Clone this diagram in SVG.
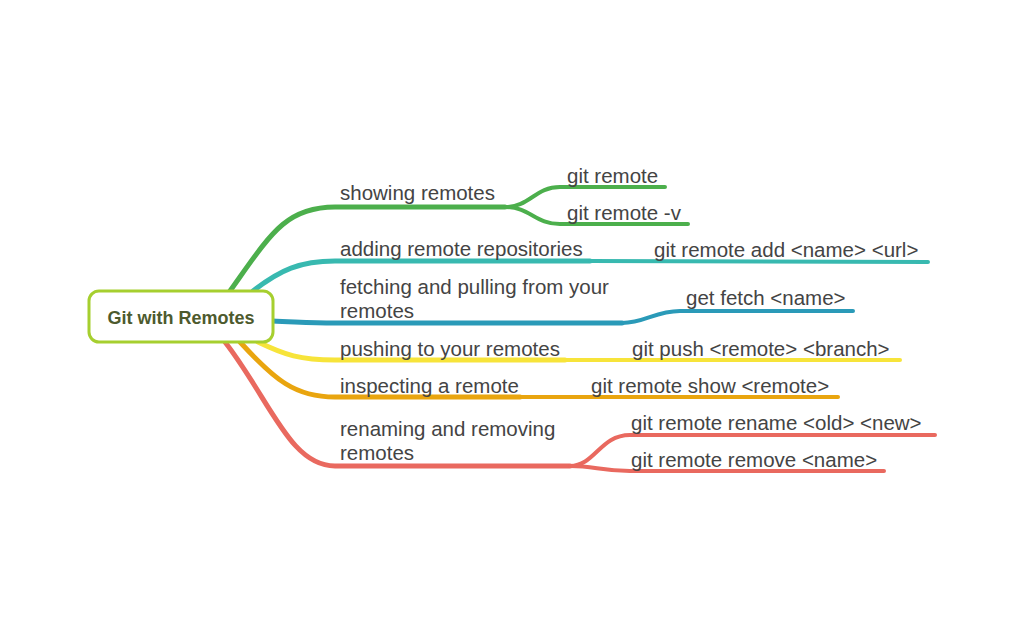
<svg xmlns="http://www.w3.org/2000/svg" width="1024" height="633" viewBox="0 0 1024 633">
<style>
.t{font-family:"Liberation Sans",Arial,sans-serif;font-size:20.5px;fill:#444;}
.m{fill:none;stroke-width:5;stroke-linecap:round;}
.s{fill:none;stroke-width:4;stroke-linecap:round;}
.g{stroke:#4caf4c}.c{stroke:#38b9b0}.b{stroke:#2a9ab8}.y{stroke:#f7e43a}.o{stroke:#e9a50f}.r{stroke:#e9695f}
</style>
<rect width="1024" height="633" fill="#fff"/>
<g id="connectors">
<path class="m g" d="M230,291 C270,235 285,207 335,207 L505,207"/>
<path class="s g" d="M505,207 C530,207 535,187 560,187 L665,187"/>
<path class="s g" d="M505,207 C530,207 535,224 560,224 L688,224"/>
<path class="m c" d="M253,291 C280,270 300,261 335,261 L590,261"/>
<path class="s c" d="M590,261 L928,262"/>
<path class="m b" d="M272,321 C300,322 310,323 335,323 L622,323"/>
<path class="s b" d="M622,323 C645,323 655,311 680,311 L853,311"/>
<path class="m y" d="M258,342 C285,355 300,360 335,360 L565,360"/>
<path class="s y" d="M565,360 L900,360"/>
<path class="m o" d="M240,342 C275,380 295,397 335,397 L520,397"/>
<path class="s o" d="M520,397 L838,397"/>
<path class="m r" d="M225,342 C270,400 290,466 335,466 L570,466"/>
<path class="s r" d="M570,466 C595,466 600,435 630,435 L935,435"/>
<path class="s r" d="M570,466 C595,466 600,471 630,471 L884,471"/>
</g>
<g id="root">
<rect x="89" y="291" width="184" height="51" rx="10" fill="#fff" stroke="#a6cf2f" stroke-width="3"/>
<text x="181" y="324" text-anchor="middle" style="font-family:'Liberation Sans',Arial,sans-serif;font-weight:bold;font-size:18px;fill:#4d5a2e">Git with Remotes</text>
</g>
<g id="n1"><text class="t" x="340" y="200">showing remotes</text></g>
<g id="n1a"><text class="t" x="567" y="183">git remote</text></g>
<g id="n1b"><text class="t" x="567" y="220">git remote -v</text></g>
<g id="n2"><text class="t" x="340" y="256">adding remote repositories</text></g>
<g id="n2a"><text class="t" x="654" y="257">git remote add &lt;name&gt; &lt;url&gt;</text></g>
<g id="n3"><text class="t" x="340" y="294">fetching and pulling from your</text><text class="t" x="340" y="318">remotes</text></g>
<g id="n3a"><text class="t" x="686" y="305">get fetch &lt;name&gt;</text></g>
<g id="n4"><text class="t" x="340" y="356">pushing to your remotes</text></g>
<g id="n4a"><text class="t" x="632" y="356">git push &lt;remote&gt; &lt;branch&gt;</text></g>
<g id="n5"><text class="t" x="340" y="393">inspecting a remote</text></g>
<g id="n5a"><text class="t" x="591" y="393">git remote show &lt;remote&gt;</text></g>
<g id="n6"><text class="t" x="340" y="436">renaming and removing</text><text class="t" x="340" y="460">remotes</text></g>
<g id="n6a"><text class="t" x="631" y="430">git remote rename &lt;old&gt; &lt;new&gt;</text></g>
<g id="n6b"><text class="t" x="631" y="467">git remote remove &lt;name&gt;</text></g>
</svg>
